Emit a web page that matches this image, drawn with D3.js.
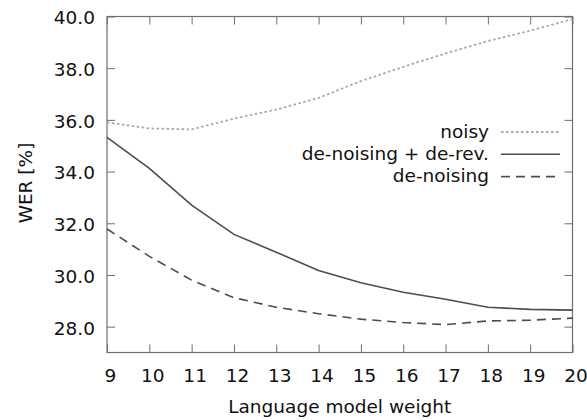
<!DOCTYPE html>
<html>
<head>
<meta charset="utf-8">
<script src="https://cdn.jsdelivr.net/npm/d3@7/dist/d3.min.js"></script>
<style>
    body { margin: 0; background: #fff; }
</style>
</head>
<body>
<div id="chart"></div>
<script>
    "use strict";
    // language model weights
    const weights = [9, 10, 11, 12, 13, 14, 15, 16, 17, 18, 19, 20];
    const noisy = [35.9, 35.67, 35.63, 36.05, 36.4, 36.85, 37.5, 38.05, 38.57, 39.05, 39.45, 39.9];
    const denoiseDerev = [35.32, 34.12, 32.7, 31.57, 30.88, 30.17, 29.7, 29.33, 29.06, 28.75, 28.67, 28.64];
    const denoise = [31.78, 30.72, 29.8, 29.12, 28.75, 28.5, 28.29, 28.16, 28.08, 28.22, 28.25, 28.33];
    const yTicks = [28, 30, 32, 34, 36, 38, 40];
    const seriesNames = ["noisy", "de-noising + de-rev.", "de-noising"];

    const width = 587, height = 420;
    const margin = {top: 16.5, right: 14.5, bottom: 67.5, left: 107};
    const fontSize = "18.5px";

    const svg = d3.select("#chart").append("svg")
        .attr("width", width)
        .attr("height", height);

    const x = d3.scaleLinear().domain([9, 20]).range([margin.left, width - margin.right]);
    const y = d3.scaleLinear().domain([27, 40]).range([height - margin.bottom, margin.top]);

    const frame = "#6e6e6e";
    const tickLen = 8;

    // ticks, mirrored on all four sides, pointing inward
    svg.append("g").attr("transform", `translate(0,${y(27)})`)
        .call(d3.axisBottom(x).tickValues(weights).tickSizeInner(-tickLen).tickSizeOuter(0).tickPadding(16))
        .call(g => g.select(".domain").remove())
        .call(g => g.selectAll("line").attr("stroke", frame))
        .call(g => g.selectAll("text").attr("dx", 3));
    svg.append("g").attr("transform", `translate(0,${y(40)})`)
        .call(d3.axisTop(x).tickValues(weights).tickSizeInner(-tickLen).tickSizeOuter(0).tickFormat(""))
        .call(g => g.select(".domain").remove())
        .call(g => g.selectAll("line").attr("stroke", frame));
    svg.append("g").attr("transform", `translate(${x(9)},0)`)
        .call(d3.axisLeft(y).tickValues(yTicks).tickSizeInner(-tickLen).tickSizeOuter(0).tickPadding(12).tickFormat(d3.format(".1f")))
        .call(g => g.select(".domain").remove())
        .call(g => g.selectAll("line").attr("stroke", frame))
        .call(g => g.selectAll("text").attr("y", 1.5));
    svg.append("g").attr("transform", `translate(${x(20)},0)`)
        .call(d3.axisRight(y).tickValues(yTicks).tickSizeInner(-tickLen).tickSizeOuter(0).tickFormat(""))
        .call(g => g.select(".domain").remove())
        .call(g => g.selectAll("line").attr("stroke", frame));

    // plot frame
    svg.append("rect")
        .attr("x", x(9)).attr("y", y(40))
        .attr("width", x(20) - x(9)).attr("height", y(27) - y(40))
        .attr("fill", "none").attr("stroke", frame).attr("stroke-width", 1.2);

    const series = [
        {name: seriesNames[0], values: noisy, color: "#a8a8a8", dash: "2.5,2.5", width: 1.8},
        {name: seriesNames[1], values: denoiseDerev, color: "#4d4d4d", dash: null, width: 1.6},
        {name: seriesNames[2], values: denoise, color: "#4d4d4d", dash: "9,6", width: 1.6}
    ];

    const line = d3.line().x((d, i) => x(weights[i])).y(d => y(d));

    svg.append("g").selectAll("path")
        .data(series)
        .enter()
        .append("path")
        .attr("d", d => line(d.values))
        .attr("fill", "none")
        .attr("stroke", d => d.color)
        .attr("stroke-width", d => d.width)
        .attr("stroke-dasharray", d => d.dash);

    // legend
    const legend = svg.append("g");
    const rows = legend.selectAll("g").data(series).enter().append("g");
    rows.append("text")
        .attr("x", 489).attr("y", (d, i) => 133.3 + i * 21.7)
        .attr("text-anchor", "end")
        .attr("dominant-baseline", "middle")
        .text(d => d.name);
    rows.append("line")
        .attr("x1", 501).attr("x2", 560)
        .attr("y1", (d, i) => 132 + i * 22.3).attr("y2", (d, i) => 132 + i * 22.3)
        .attr("stroke", d => d.color)
        .attr("stroke-width", d => d.width)
        .attr("stroke-dasharray", d => d.dash);

    // axis titles
    svg.append("text")
        .attr("x", (x(9) + x(20)) / 2).attr("y", 413)
        .attr("text-anchor", "middle")
        .text("Language model weight");
    svg.append("text")
        .attr("transform", "translate(32,183) rotate(-90)")
        .attr("text-anchor", "middle")
        .text("WER [%]");

    svg.selectAll("text")
        .attr("font-family", "DejaVu Sans")
        .style("font-family", "'DejaVu Sans'")
        .style("font-size", fontSize)
        .attr("fill", "#111");
</script>
</body>
</html>
